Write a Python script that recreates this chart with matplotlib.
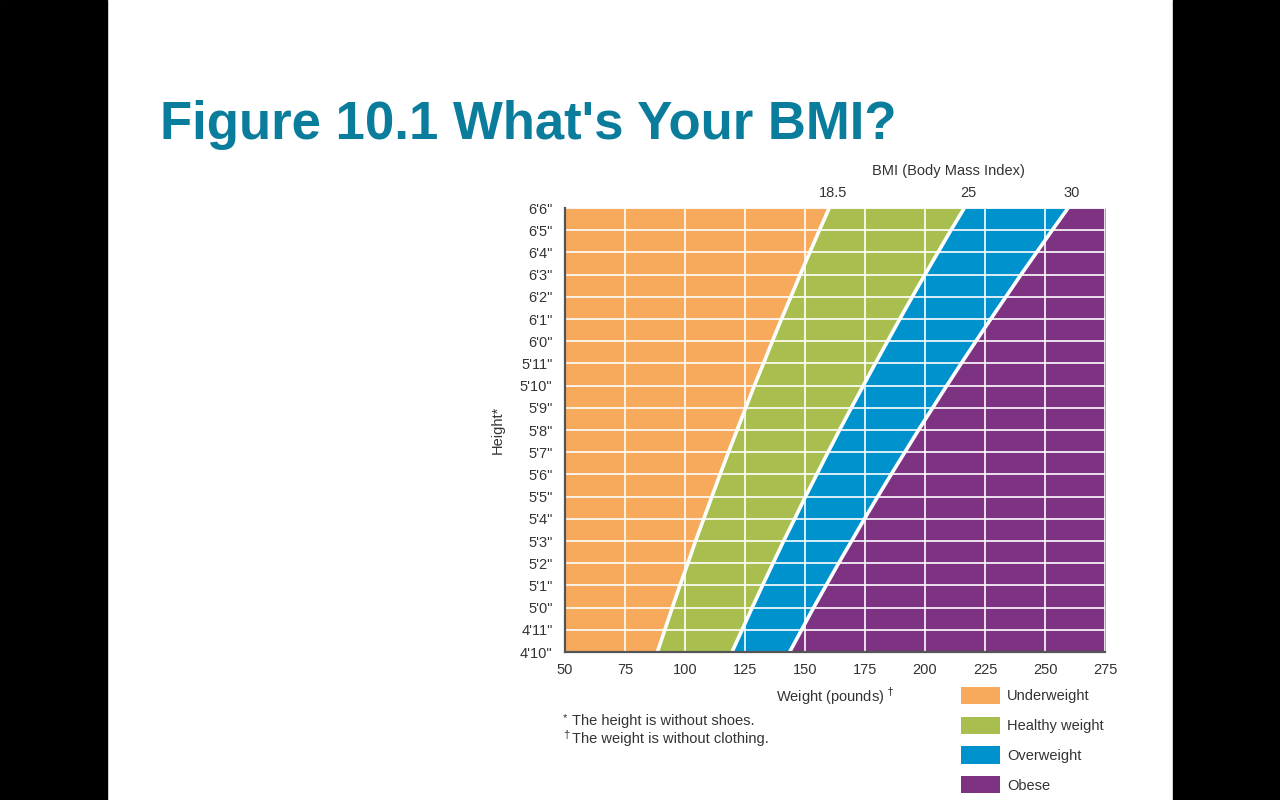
import matplotlib
matplotlib.use("Agg")
import matplotlib.pyplot as plt
from matplotlib.patches import Rectangle, Patch

plt.rcParams['font.family'] = ['Liberation Sans', 'DejaVu Sans']

# ---- data ----
heights_in = [58, 59, 60, 61, 62, 63, 64, 65, 66, 67, 68, 69, 70, 71, 72, 73, 74, 75, 76, 77, 78]
height_labels = ['4\'10"', '4\'11"', '5\'0"', '5\'1"', '5\'2"', '5\'3"', '5\'4"', '5\'5"', '5\'6"',
                 '5\'7"', '5\'8"', '5\'9"', '5\'10"', '5\'11"', '6\'0"', '6\'1"', '6\'2"', '6\'3"',
                 '6\'4"', '6\'5"', '6\'6"']
weight_ticks = [50, 75, 100, 125, 150, 175, 200, 225, 250, 275]
# boundary weights (lbs) read at each height
bmi_18_5 = [88.5, 91.6, 94.7, 97.9, 101.2, 104.4, 107.8, 111.2, 114.6, 118.1, 121.7, 125.3, 128.9,
            132.7, 136.4, 140.2, 144.1, 148.0, 152.0, 156.0, 160.1]
bmi_25 = [119.6, 123.8, 128.0, 132.3, 136.7, 141.1, 145.7, 150.2, 154.9, 159.6, 164.4, 169.3, 174.3,
          179.3, 184.4, 189.5, 194.7, 200.0, 205.4, 210.8, 216.4]
bmi_30 = [143.6, 148.6, 153.6, 158.8, 164.0, 169.4, 174.8, 180.3, 185.9, 191.6, 197.3, 203.2, 209.1,
          215.1, 221.2, 227.4, 233.7, 240.0, 246.5, 253.0, 259.6]
bmi_labels = ['18.5', '25', '30']
categories = ['Underweight', 'Healthy weight', 'Overweight', 'Obese']
colors = ['#F8AA5C', '#A8BF50', '#0092CC', '#7D3282']

W, H = 1280, 800
fig = plt.figure(figsize=(12.8, 8.0), dpi=100)
fig.patch.set_facecolor('white')

# black side bars
fig.add_artist(Rectangle((0, 0), 107 / W, 1, transform=fig.transFigure, color='black', zorder=0))
fig.add_artist(Rectangle((1173 / W, 0), 107 / W, 1, transform=fig.transFigure, color='black', zorder=0))

fig.text(160 / W, 1 - 125 / H, "Figure 10.1 What's Your BMI?", fontsize=38, fontweight='bold',
         color='#0B7D9C', ha='left', va='center')

ax = fig.add_axes([565 / W, 1 - 652 / H, 540 / W, 444 / H])
xmin, xmax = weight_ticks[0], weight_ticks[-1]
ax.fill_betweenx(heights_in, xmin, bmi_18_5, color=colors[0], lw=0, zorder=1)
ax.fill_betweenx(heights_in, bmi_18_5, bmi_25, color=colors[1], lw=0, zorder=1)
ax.fill_betweenx(heights_in, bmi_25, bmi_30, color=colors[2], lw=0, zorder=1)
ax.fill_betweenx(heights_in, bmi_30, xmax, color=colors[3], lw=0, zorder=1)

ax.hlines(heights_in, xmin, xmax, color='white', lw=1.2, zorder=2)
ax.vlines(weight_ticks, heights_in[0], heights_in[-1], color='white', lw=1.2, zorder=2)
for b in (bmi_18_5, bmi_25, bmi_30):
    ax.plot(b, heights_in, color='white', lw=2.6, zorder=3, solid_capstyle='butt')

ax.set_xlim(xmin, xmax)
ax.set_ylim(heights_in[0], heights_in[-1])
ax.set_xticks(weight_ticks)
ax.set_yticks(heights_in)
ax.set_yticklabels(height_labels)
ax.tick_params(axis='both', length=0, labelsize=10.5, colors='#333333')
ax.tick_params(axis='y', pad=9)
ax.tick_params(axis='x', pad=8)
for s in ('top', 'right'):
    ax.spines[s].set_visible(False)
for s in ('left', 'bottom'):
    ax.spines[s].set_color('#555555')
    ax.spines[s].set_linewidth(1.6)
    ax.spines[s].set_zorder(4)

# BMI labels on top
for b, lab in zip((bmi_18_5, bmi_25, bmi_30), bmi_labels):
    ax.text(b[-1] + 1.5, heights_in[-1] + 0.66, lab, ha='center', va='center', fontsize=10.5,
            color='#333333')
fig.text(948 / W, 1 - 171 / H, 'BMI (Body Mass Index)', ha='center', va='center', fontsize=10.5,
         color='#333333')

fig.text(498 / W, 1 - 430 / H, 'Height*', rotation=90, ha='center', va='center', fontsize=10.5,
         color='#333333')
fig.text(835 / W, 1 - 696 / H, 'Weight (pounds) $^{\u2020}$', ha='center', va='center', fontsize=10.5,
         color='#333333')

fig.text(563 / W, 1 - 718 / H, '*', ha='left', va='center', fontsize=8, color='#333333')
fig.text(572 / W, 1 - 721 / H, 'The height is without shoes.', ha='left', va='center', fontsize=10.5,
         color='#333333')
fig.text(563 / W, 1 - 735 / H, '\u2020', ha='left', va='center', fontsize=8, color='#333333')
fig.text(572 / W, 1 - 739 / H, 'The weight is without clothing.', ha='left', va='center', fontsize=10.5,
         color='#333333')

handles = [Patch(facecolor=c, edgecolor='none') for c in colors]
fig.legend(handles, categories, loc='upper left', bbox_to_anchor=(961 / W, 1 - 687 / H),
           frameon=False, borderpad=0, borderaxespad=0, fontsize=10.5, handlelength=2.7,
           handleheight=1.45, labelspacing=0.85, handletextpad=0.45, labelcolor='#333333')

fig.savefig('out.png', dpi=100, facecolor='white')
